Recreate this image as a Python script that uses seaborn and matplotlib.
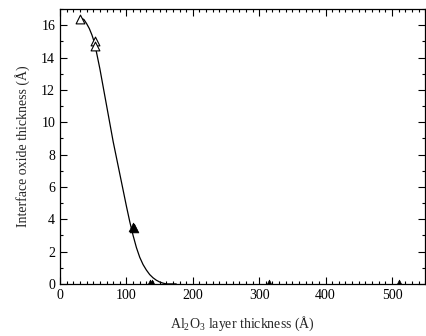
import numpy as np
import pandas as pd
import matplotlib
matplotlib.use('Agg')
import matplotlib.pyplot as plt
from matplotlib.ticker import MultipleLocator
import seaborn as sns

# fitted curve
curve_x = [30, 33, 36, 40, 44, 48, 52, 56, 60, 64, 68, 72, 76, 80, 85, 90, 95,
           100, 105, 110, 115, 120, 125, 130, 135, 140, 145, 150, 155, 160, 175]
curve_y = [16.4, 16.42, 16.35, 16.1, 15.8, 15.4, 14.9, 14.1, 13.3, 12.4, 11.5, 10.6, 9.7, 8.8, 7.8, 6.8, 5.8,
           4.8, 3.85, 3.0, 2.25, 1.65, 1.2, 0.86, 0.58, 0.38, 0.23, 0.12, 0.05, 0.0, 0.0]

# open triangles
open_x = [30, 52, 53]
open_y = [16.4, 15.0, 14.7]

# filled triangles
fill_x = [110, 111, 135, 138, 315, 510]
fill_y = [3.5, 3.45, 0.0, 0.0, 0.0, 0.0]

sns.set_style('ticks')
plt.rcParams['font.family'] = ['Liberation Serif', 'DejaVu Serif']
plt.rcParams['mathtext.fontset'] = 'custom'
plt.rcParams['mathtext.rm'] = 'Liberation Serif'
plt.rcParams['mathtext.it'] = 'Liberation Serif:italic'

fig = plt.figure(figsize=(4.26, 3.36), dpi=100)
ax = fig.add_axes([0.141, 0.155, 0.857, 0.818])

sns.lineplot(x=curve_x, y=curve_y, color='black', linewidth=0.9, ax=ax)
sns.scatterplot(x=open_x, y=open_y, marker='^', s=40, facecolor='white',
                edgecolor='black', linewidth=0.8, ax=ax, zorder=3)
sns.scatterplot(x=fill_x, y=fill_y, marker='^', s=40, color='black',
                edgecolor='black', linewidth=0.5, ax=ax, zorder=3)

ax.set_xlim(0, 550)
ax.set_ylim(0, 17)
ax.xaxis.set_major_locator(MultipleLocator(100))
ax.xaxis.set_minor_locator(MultipleLocator(10))
ax.yaxis.set_major_locator(MultipleLocator(2))
ax.yaxis.set_minor_locator(MultipleLocator(1))
ax.tick_params(which='both', direction='in', top=True, right=True,
               width=0.8, colors='black', labelsize=10)
ax.tick_params(which='major', length=5)
ax.tick_params(which='minor', length=2.5)
for s in ax.spines.values():
    s.set_linewidth(0.9)
    s.set_color('black')

ax.set_xlabel(r'Al$_2$O$_3$ layer thickness (Å)', fontsize=10, labelpad=9)
ax.set_ylabel('Interface oxide thickness (Å)', fontsize=10, labelpad=8)

fig.savefig('out.png', dpi=100)
